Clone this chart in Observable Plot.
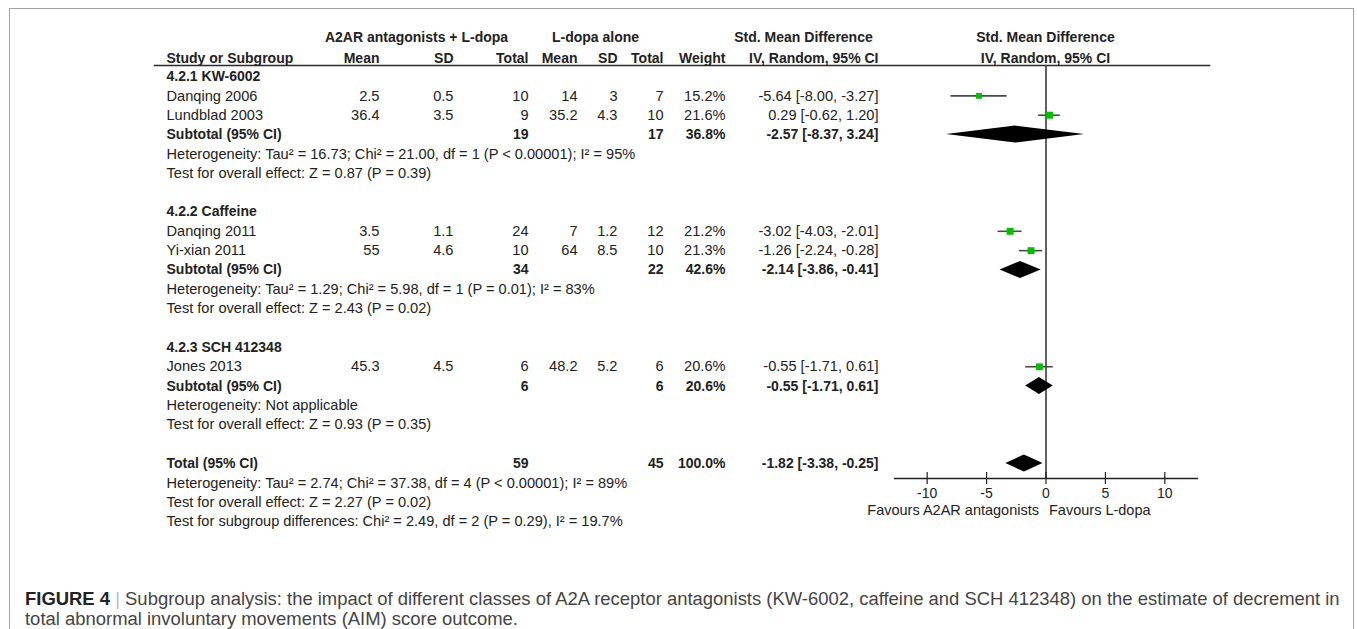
<!DOCTYPE html>
<html>
<head>
<meta charset="utf-8">
<script src="https://cdn.jsdelivr.net/npm/d3@7"></script>
<script src="https://cdn.jsdelivr.net/npm/@observablehq/plot@0.6"></script>
<style>
  html, body { margin: 0; padding: 0; background: #fff; }
  #wrap { position: relative; width: 1357px; height: 629px; overflow: hidden; background: #fff; }
  #chart { position: absolute; left: 0; top: 0; }
  #chart svg { display: block; }
  #border { position: absolute; left: 9px; top: 8px; width: 1345px; height: 700px;
            border: 1.5px solid #a3a3a3; border-bottom: none; box-sizing: border-box; pointer-events: none; }
  #caption { position: absolute; left: 25px; top: 589px; white-space: nowrap; color: #444;
             font-family: "Liberation Sans", Arial, sans-serif; font-size: 16px; line-height: 20px; }
  #caption b { color: #222; }
  #caption .bar { color: #bbb; }
</style>
</head>
<body>
<div id="wrap">
  <div id="chart"></div>
  <div id="border"></div>
  <div id="caption">
    <div id="cap1"><b>FIGURE 4</b> <span class="bar">|</span> Subgroup analysis: the impact of different classes of A2A receptor antagonists (KW-6002, caffeine and SCH 412348) on the estimate of decrement in</div>
    <div id="cap2">total abnormal involuntary movements (AIM) score outcome.</div>
  </div>
</div>
<script>
// ---------------- data ----------------
const subgroupNames = ["4.2.1 KW-6002", "4.2.2 Caffeine", "4.2.3 SCH 412348"];
const studySubgroup = [0, 0, 1, 1, 2];
const studyNames = ["Danqing 2006", "Lundblad 2003", "Danqing 2011", "Yi-xian 2011", "Jones 2013"];
const expMean  = [2.5, 36.4, 3.5, 55, 45.3];
const expSD    = [0.5, 3.5, 1.1, 4.6, 4.5];
const expTotal = [10, 9, 24, 10, 6];
const ctlMean  = [14, 35.2, 7, 64, 48.2];
const ctlSD    = [3, 4.3, 1.2, 8.5, 5.2];
const ctlTotal = [7, 10, 12, 10, 6];
const studyWeight = [15.2, 21.6, 21.2, 21.3, 20.6];
const studySMD  = [-5.64, 0.29, -3.02, -1.26, -0.55];
const studyLow  = [-8.00, -0.62, -4.03, -2.24, -1.71];
const studyHigh = [-3.27, 1.20, -2.01, -0.28, 0.61];

const subExpTotal = [19, 34, 6];
const subCtlTotal = [17, 22, 6];
const subWeight = [36.8, 42.6, 20.6];
const subSMD  = [-2.57, -2.14, -0.55];
const subLow  = [-8.37, -3.86, -1.71];
const subHigh = [3.24, -0.41, 0.61];
const subHeterogeneity = [
  "Heterogeneity: Tau² = 16.73; Chi² = 21.00, df = 1 (P < 0.00001); I² = 95%",
  "Heterogeneity: Tau² = 1.29; Chi² = 5.98, df = 1 (P = 0.01); I² = 83%",
  "Heterogeneity: Not applicable"
];
const subOverall = [
  "Test for overall effect: Z = 0.87 (P = 0.39)",
  "Test for overall effect: Z = 2.43 (P = 0.02)",
  "Test for overall effect: Z = 0.93 (P = 0.35)"
];

const totalLabel = "Total (95% CI)";
const totalExp = 59, totalCtl = 45, totalWeight = 100.0;
const totalSMD = -1.82, totalLow = -3.38, totalHigh = -0.25;
const totalNotes = [
  "Heterogeneity: Tau² = 2.74; Chi² = 37.38, df = 4 (P < 0.00001); I² = 89%",
  "Test for overall effect: Z = 2.27 (P = 0.02)",
  "Test for subgroup differences: Chi² = 2.49, df = 2 (P = 0.29), I² = 19.7%"
];

const groupHeaders = ["A2AR antagonists + L-dopa", "L-dopa alone", "Std. Mean Difference", "Std. Mean Difference"];
const columnHeaders = ["Study or Subgroup", "Mean", "SD", "Total", "Mean", "SD", "Total", "Weight", "IV, Random, 95% CI", "IV, Random, 95% CI"];
const axisTicks = [-10, -5, 0, 5, 10];
const favours = ["Favours A2AR antagonists", "Favours L-dopa"];

// ---------------- layout (pixels) ----------------
const W = 1357, H = 545;
const plotLeft = 894, plotRight = 1197, frameTop = 65, axisY = 478;
const rowTop = 76, rowPitch = 19.35;
const colX = {label: 166, m1: 379, sd1: 453, n1: 528, m2: 577, sd2: 617, n2: 663, w: 725, ci: 878};
const groupX = [416, 595, 803, 1045];
const headX = [166, 379, 453, 528, 577, 617, 663, 725, 878, 1045];
const headAnchor = ["start", "end", "end", "end", "end", "end", "end", "end", "end", "middle"];

// ---------------- build table ----------------
const fmtW = w => w.toFixed(1) + "%";
const fmtCI = (e, l, h) => `${e.toFixed(2)} [${l.toFixed(2)}, ${h.toFixed(2)}]`;
const rows = [];
const diamonds = [];
let r = 0;
subgroupNames.forEach((name, g) => {
  rows.push({row: r++, kind: "head", label: name});
  studyNames.forEach((s, i) => {
    if (studySubgroup[i] !== g) return;
    rows.push({row: r++, kind: "study", label: s,
      m1: String(expMean[i]), sd1: String(expSD[i]), n1: String(expTotal[i]),
      m2: String(ctlMean[i]), sd2: String(ctlSD[i]), n2: String(ctlTotal[i]),
      w: fmtW(studyWeight[i]), ci: fmtCI(studySMD[i], studyLow[i], studyHigh[i]),
      est: studySMD[i], lo: studyLow[i], hi: studyHigh[i], weight: studyWeight[i]});
  });
  rows.push({row: r, kind: "sub", label: "Subtotal (95% CI)",
    n1: String(subExpTotal[g]), n2: String(subCtlTotal[g]), w: fmtW(subWeight[g]),
    ci: fmtCI(subSMD[g], subLow[g], subHigh[g])});
  diamonds.push({id: g, row: r, est: subSMD[g], lo: subLow[g], hi: subHigh[g]});
  r++;
  rows.push({row: r++, kind: "note", label: subHeterogeneity[g]});
  rows.push({row: r++, kind: "note", label: subOverall[g]});
  r++;
});
rows.push({row: r, kind: "sub", label: totalLabel, n1: String(totalExp), n2: String(totalCtl),
  w: fmtW(totalWeight), ci: fmtCI(totalSMD, totalLow, totalHigh)});
diamonds.push({id: "total", row: r, est: totalSMD, lo: totalLow, hi: totalHigh});
r++;
totalNotes.forEach(t => rows.push({row: r++, kind: "note", label: t}));

const studies = rows.filter(d => d.kind === "study");
const halfH = 8.5 / rowPitch;
const diamondPts = diamonds.flatMap(d => [
  {id: d.id, y: d.row - halfH, x1: d.est, x2: d.est},
  {id: d.id, y: d.row, x1: d.lo, x2: d.hi},
  {id: d.id, y: d.row + halfH, x1: d.est, x2: d.est}
]);

const isBold = d => d.kind === "head" || d.kind === "sub";
function column(key, px, anchor) {
  const base = {y: "row", text: key, frameAnchor: "left", dx: px - plotLeft, textAnchor: anchor};
  return [
    Plot.text(rows, {...base, filter: d => !isBold(d) && d[key] != null, fontSize: 14.6}),
    Plot.text(rows, {...base, filter: d => isBold(d) && d[key] != null, fontWeight: "bold"})
  ];
}

const marks = [
  // header rule
  Plot.frame({anchor: "top", insetLeft: -(plotLeft - 154), insetRight: -(1209 - plotRight), stroke: "#2a2a2a", strokeWidth: 1.6}),
  // zero line
  Plot.ruleX([0], {stroke: "#3a3a3a", strokeWidth: 1.6}),
  // axis line
  Plot.frame({anchor: "bottom", stroke: "#222", strokeWidth: 1.3}),
  Plot.ruleX(axisTicks, {insetTop: (axisY - frameTop) - 6, stroke: "#222", strokeWidth: 1.2}),
  Plot.axisX({ticks: axisTicks, tickSize: 6, tickPadding: 4, tickFormat: d => String(d), label: null,
    fontSize: 14, strokeWidth: 1.2}),
  Plot.text([favours[0]], {x: 0, frameAnchor: "bottom", dy: 36, dx: -7, textAnchor: "end", fontSize: 14.5}),
  Plot.text([favours[1]], {x: 0, frameAnchor: "bottom", dy: 36, dx: 3, textAnchor: "start", fontSize: 14.5}),
  // group headers
  ...groupHeaders.map((h, i) => Plot.text([h], {y: () => -2, frameAnchor: "left", dx: groupX[i] - plotLeft,
    textAnchor: "middle", fontWeight: "bold"})),
  ...columnHeaders.map((h, i) => Plot.text([h], {y: () => -1, frameAnchor: "left", dx: headX[i] - plotLeft,
    textAnchor: headAnchor[i], fontWeight: "bold", dy: 1})),
  // table columns
  ...column("label", colX.label, "start"),
  ...["m1", "sd1", "n1", "m2", "sd2", "n2", "w", "ci"].flatMap(k => column(k, colX[k], "end")),
  // whiskers, squares, diamonds
  Plot.ruleY(studies, {y: "row", x1: "lo", x2: "hi", stroke: "#4a4a4a", strokeWidth: 1.6}),
  Plot.dot(studies, {x: "est", y: "row", r: "weight", symbol: "square", fill: "#00c000", stroke: "none"}),
  Plot.areaX(diamondPts, {y: "y", x1: "x1", x2: "x2", z: "id", fill: "black", curve: "linear"})
];

const chart = Plot.plot({
  width: W, height: H,
  marginLeft: plotLeft, marginRight: W - plotRight, marginTop: frameTop, marginBottom: H - axisY,
  axis: null,
  x: {domain: [-12.75, 12.75]},
  y: {domain: [0, 23], range: [rowTop, rowTop + 23 * rowPitch]},
  r: {type: "sqrt", domain: [0, 21.6], range: [0, 3.95]},
  style: {fontFamily: "'Liberation Sans', Arial, sans-serif", fontSize: "14px", color: "#222", background: "#fff"},
  marks
});
document.getElementById("chart").appendChild(chart);

// fit caption first line to its width in the reference
const cap = document.getElementById("caption");
const cap1 = document.getElementById("cap1");
const target = 1315;
const span = document.createElement("span");
span.innerHTML = cap1.innerHTML;
cap1.innerHTML = "";
cap1.appendChild(span);
const measured = span.getBoundingClientRect().width;
cap.style.fontSize = (16 * target / measured).toFixed(2) + "px";
</script>
</body>
</html>
